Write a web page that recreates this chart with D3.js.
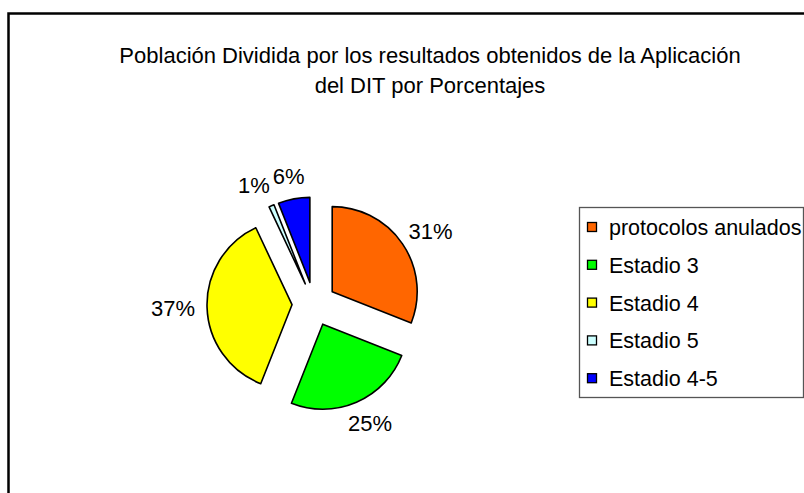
<!DOCTYPE html>
<html>
<head>
<meta charset="utf-8">
<script src="https://cdn.jsdelivr.net/npm/d3@7"></script>
<style>
  body { margin: 0; background: #fff; }
  text { font-family: "Liberation Sans", Arial, sans-serif; fill: #000; }
</style>
</head>
<body>
<div id="display"></div>
<script>
// Chart data
var categories = ['protocolos anulados', 'Estadio 3', 'Estadio 4', 'Estadio 5', 'Estadio 4-5'];
var percents = [31, 25, 37, 1, 6];
var colors = ['#FF6600', '#00FF00', '#FFFF00', '#CCFFFF', '#0000FF'];
var titleLines = ['Población Dividida por los resultados obtenidos de la Aplicación', 'del DIT por Porcentajes'];

// Layout
var width = 804;
var height = 493;
var cx = 314, cy = 304;
var radius = 85;
var explode = 22;
var labelDist = 119;

var svg = d3.select('#display').append('svg')
  .attr('width', width)
  .attr('height', height);

// chart frame (runs off the right and bottom)
svg.append('rect')
  .attr('x', 8.5)
  .attr('y', 13.5)
  .attr('width', 820)
  .attr('height', 520)
  .attr('fill', '#fff')
  .attr('stroke', '#000')
  .attr('stroke-width', 2.5);

// title
svg.append('g').selectAll('text')
  .data(titleLines)
  .enter().append('text')
  .attr('x', 430)
  .attr('y', function(d, i) { return 63 + i * 30; })
  .attr('text-anchor', 'middle')
  .style('font-size', '22px')
  .text(function(d) { return d; });

// pie
var pie = d3.pie().sort(null).value(function(d) { return d; });
var arcs = pie(percents);
var arc = d3.arc().innerRadius(0).outerRadius(radius);

var g = svg.append('g').attr('transform', 'translate(' + cx + ',' + cy + ')');

var mid = function(d) { return (d.startAngle + d.endAngle) / 2; };

g.selectAll('path')
  .data(arcs)
  .enter().append('path')
  .attr('d', arc)
  .attr('transform', function(d) {
    var a = mid(d);
    return 'translate(' + (Math.sin(a) * explode) + ',' + (-Math.cos(a) * explode) + ')';
  })
  .attr('fill', function(d, i) { return colors[i]; })
  .attr('stroke', '#000')
  .attr('stroke-width', 1.6)
  .attr('stroke-linejoin', 'round');

// labels outside each slice, box pushed outward from the anchor point
var boxes = [];
var labels = g.selectAll('text')
  .data(arcs)
  .enter().append('text')
  .style('font-size', '22px')
  .attr('text-anchor', 'middle')
  .text(function(d) { return d.value + '%'; })
  .each(function(d) {
    var a = mid(d);
    var w = this.getComputedTextLength();
    boxes.push({
      x: Math.sin(a) * (labelDist + w / 2),
      y: -Math.cos(a) * (labelDist + 11) + 8,
      w: w
    });
  });

// small slices near each other: push the earlier label left
for (var i = boxes.length - 1; i > 0; i--) {
  var a = boxes[i - 1], b = boxes[i];
  var overlap = (a.x + a.w / 2 + 3) - (b.x - b.w / 2);
  if (Math.abs(a.y - b.y) < 16 && overlap > 0 && a.x < b.x) {
    a.x -= overlap;
  }
}

labels
  .attr('x', function(d, i) { return boxes[i].x; })
  .attr('y', function(d, i) { return boxes[i].y; });

// legend
var legend = svg.append('g').attr('transform', 'translate(579,207)');
legend.append('rect')
  .attr('x', 0.5)
  .attr('y', 0.5)
  .attr('width', 224)
  .attr('height', 190)
  .attr('fill', '#fff')
  .attr('stroke', '#555')
  .attr('stroke-width', 1.3);

var items = legend.selectAll('.item')
  .data(categories)
  .enter().append('g')
  .attr('class', 'item')
  .attr('transform', function(d, i) { return 'translate(0,' + (i * 37.8) + ')'; });

items.append('rect')
  .attr('x', 8.5)
  .attr('y', 15.5)
  .attr('width', 9)
  .attr('height', 9)
  .attr('fill', function(d, i) { return colors[i]; })
  .attr('stroke', '#000')
  .attr('stroke-width', 1.3);

items.append('text')
  .attr('x', 30)
  .attr('y', 28)
  .style('font-size', '21.5px')
  .text(function(d) { return d; });
</script>
</body>
</html>
